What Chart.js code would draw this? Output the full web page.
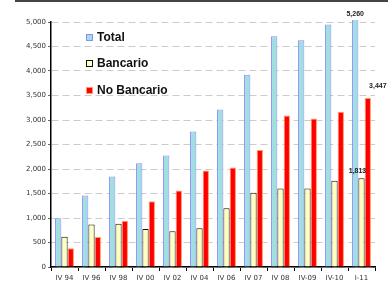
<!DOCTYPE html>
<html lang="es">
<head>
    <meta charset="UTF-8">
    <title>Total / Bancario / No Bancario</title>
    <script src="https://cdn.jsdelivr.net/npm/chart.js"></script>
    <style>
        html, body { margin: 0; padding: 0; background: #fff; }
        .marco { position: relative; width: 388px; height: 304px; }
        .linea-sup { position: absolute; left: 15px; right: 0; top: 0; height: 2px; background: #444; }
        canvas { position: absolute; left: 0; top: 0; }
    </style>
</head>
<body>
    <div class="marco">
        <div class="linea-sup"></div>
        <canvas id="grafico" width="388" height="304"></canvas>
    </div>

<script>
    // datos
    var periodos = ['IV 94', 'IV 96', 'IV 98', 'IV 00', 'IV 02', 'IV 04', 'IV 06', 'IV 07', 'IV 08', 'IV-09', 'IV-10', 'I-11'];
    var total = [995, 1460, 1845, 2115, 2275, 2765, 3215, 3925, 4710, 4630, 4950, 5260];
    var bancario = [615, 865, 885, 775, 730, 790, 1200, 1515, 1600, 1600, 1760, 1813];
    var noBancario = [385, 610, 945, 1340, 1560, 1970, 2030, 2390, 3090, 3030, 3170, 3447];
    var ticksY = [0, 500, 1000, 1500, 2000, 2500, 3000, 3500, 4000, 4500, 5000];

    var fuente = '"DejaVu Sans", sans-serif';

    // leyenda dentro del area y etiquetas del ultimo periodo
    var pluginExtra = {
        id: 'extra',
        afterDraw: function (chart) {
            var ctx = chart.ctx;
            var filas = [37, 63, 90];
            ctx.save();
            chart.data.datasets.forEach(function (ds, i) {
                var y = filas[i];
                ctx.fillStyle = ds.backgroundColor;
                ctx.fillRect(86, y - 3, 6, 6);
                ctx.strokeStyle = ds.borderColor;
                ctx.lineWidth = 1;
                ctx.strokeRect(86.5, y - 2.5, 6, 6);
                ctx.fillStyle = '#111';
                ctx.font = 'bold 12px "Liberation Sans", Arial, sans-serif';
                ctx.textBaseline = 'middle';
                ctx.textAlign = 'left';
                ctx.fillText(ds.label, 97, y + 0.5);
            });

            // valores del ultimo periodo
            var desplaz = [[0, -6], [-4, -7], [10, -12]];
            var ultimo = periodos.length - 1;
            ctx.font = 'bold 7px "Liberation Sans", Arial, sans-serif';
            ctx.fillStyle = '#222';
            ctx.textAlign = 'center';
            ctx.textBaseline = 'middle';
            chart.data.datasets.forEach(function (ds, i) {
                var barra = chart.getDatasetMeta(i).data[ultimo];
                var y = Math.max(barra.y, chart.chartArea.top - 2);
                ctx.fillText(ds.data[ultimo].toLocaleString('en-US'), barra.x + desplaz[i][0], y + desplaz[i][1]);
            });
            ctx.restore();
        }
    };

    new Chart(document.getElementById('grafico'), {
        type: 'bar',
        data: {
            labels: periodos,
            datasets: [{
                label: 'Total',
                data: total,
                backgroundColor: '#a0dfdf',
                borderColor: '#8c8cff',
                borderWidth: 1,
                clip: { left: 0, right: 0, top: 2, bottom: 0 }
            }, {
                label: 'Bancario',
                data: bancario,
                backgroundColor: '#ffffc0',
                borderColor: '#111',
                borderWidth: 1
            }, {
                label: 'No Bancario',
                data: noBancario,
                backgroundColor: '#ff0000',
                borderColor: '#ff9a66',
                borderWidth: 1
            }]
        },
        options: {
            responsive: false,
            animation: false,
            layout: { padding: { top: 22, right: 13, left: 0, bottom: 0 } },
            datasets: { bar: { categoryPercentage: 0.7, barPercentage: 1 } },
            plugins: {
                legend: { display: false },
                tooltip: { enabled: false }
            },
            scales: {
                x: {
                    afterFit: function (s) { s.height = 37; },
                    grid: { offset: true, drawOnChartArea: false, tickLength: 4, tickColor: '#000', tickWidth: 1 },
                    border: { color: '#000', width: 1.5 },
                    ticks: { font: { family: fuente, size: 7 }, color: '#333', padding: 3, maxRotation: 0, autoSkip: false }
                },
                y: {
                    min: 0,
                    max: 5000,
                    afterFit: function (s) { s.width = 51; },
                    afterBuildTicks: function (s) { s.ticks = ticksY.map(function (v) { return { value: v }; }); },
                    grid: { color: '#cccccc', lineWidth: 1, tickLength: 3, tickColor: '#666' },
                    border: { color: '#000', width: 1.5, dash: [7, 4] },
                    ticks: { font: { family: fuente, size: 7 }, color: '#333', padding: 2 }
                }
            }
        },
        plugins: [pluginExtra]
    });
</script>
</body>
</html>
